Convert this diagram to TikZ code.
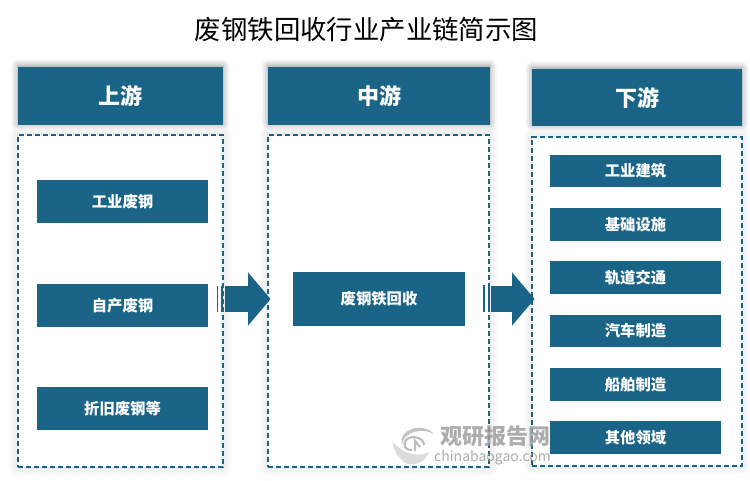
\documentclass[tikz,border=0pt]{standalone}
\usepackage{fontspec}
\setmainfont{Noto Sans CJK SC}
\usetikzlibrary{arrows.meta,shadows.blur}
\definecolor{steel}{HTML}{1A6587}
\tikzset{
	head/.style = {fill=steel, text=white, inner sep=0pt, outer sep=0pt, minimum height=43.5pt, font=\fontsize{16.5}{16.5}\selectfont\bfseries,
		blur shadow={shadow xshift=0pt, shadow yshift=1pt, shadow blur radius=5pt, shadow opacity=45}},
	frame/.style = {draw=steel, dash pattern=on 4pt off 2pt, line width=1.1pt, fill=white, inner sep=0pt, outer sep=0pt,
		blur shadow={shadow xshift=0pt, shadow yshift=0pt, shadow blur radius=7pt, shadow opacity=18}},
	item/.style = {fill=steel, text=white, inner sep=0pt, outer sep=0pt, minimum width=128pt, font=\fontsize{11.5}{11.5}\selectfont\bfseries},
	flow/.style = {draw=steel, line width=19.5pt, -{Triangle[length=17pt,width=39pt]}, shorten >=-2pt, shorten <=1.5pt},
	barline/.style = {draw=steel, line width=1.2pt},
	wmark/.style = {text=gray!75, inner sep=0pt, opacity=.85}
}
\begin{document}
\begin{tikzpicture}[x=.75pt, y=-.75pt]
			\useasboundingbox (0,0) rectangle (750,480);
			\node (title) at (366.5,30) {\fontsize{19.8}{19.8}\selectfont 废钢铁回收行业产业链简示图};
			\node[head, minimum width=153.75pt] (up) at (120.5,96) {上游};
			\node[head, minimum width=166.5pt] (mid) at (379,96) {中游};
			\node[head, minimum width=157.5pt, minimum height=42.75pt] (down) at (637,97.5) {下游};
			\node[frame, minimum width=153.75pt, minimum height=249pt] (upbox) at (120.5,301) {};
			\node[frame, minimum width=165.75pt, minimum height=249pt] (midbox) at (378.5,301) {};
			\node[frame, minimum width=157.5pt, minimum height=246.75pt] (downbox) at (637,301.5) {};
			\node[item, minimum height=32.25pt] (scrap1) at (122.5,201.5) {工业废钢};
			\node[item, minimum height=32.25pt] (scrap2) [below of=scrap1, node distance=78pt] {自产废钢};
			\node[item, minimum height=32.25pt] (scrap3) [below of=scrap2, node distance=77.25pt] {折旧废钢等};
			\node[item, minimum width=129pt, minimum height=40.5pt] (recycle) at (379,299) {废钢铁回收};
			\node[item, minimum height=24.4pt] (use1) at (635.5,171) {工业建筑};
			\node[item, minimum height=24.4pt] (use2) [below of=use1, node distance=40pt] {基础设施};
			\node[item, minimum height=24.4pt] (use3) [below of=use2, node distance=40pt] {轨道交通};
			\node[item, minimum height=24.4pt] (use4) [below of=use3, node distance=40pt] {汽车制造};
			\node[item, minimum height=24.4pt] (use5) [below of=use4, node distance=40pt] {船舶制造};
			\node[item, minimum height=24.4pt] (use6) [below of=use5, node distance=40pt] {其他领域};
			\draw[flow] (upbox.east |- recycle) -- (midbox.west |- recycle);
			\draw[flow] (midbox.east |- recycle) -- (downbox.west |- recycle);
			\draw[barline] (217.5,286) -- (217.5,312);
			\draw[barline] (222,286) -- (222,312);
			\draw[barline] (484,285) -- (484,312);
			\draw[barline] (489,285) -- (489,312);
			% logo
			\fill[gray!55, opacity=.85] (402,444) .. controls (398,430) and (422,421) .. (434,434) .. controls (424,428) and (405,430) .. (402,444) -- cycle;
			\fill[gray!30, opacity=.9] (392,442) .. controls (398,446) and (402,452) .. (412,454) .. controls (418,455) and (424,455) .. (429,452) .. controls (426,462) and (412,468) .. (404,462) .. controls (398,458) and (394,450) .. (392,442) -- cycle;
			\draw[gray!60, line width=1.6pt, opacity=.85] (424,445) .. controls (424,438) and (412,434) .. (406,440) .. controls (402,445) and (406,451) .. (412,450);
			\draw[gray!60, line width=1.6pt, opacity=.85] (415,451) -- (415,441) -- (420,447);
			\node[wmark] (markcn) at (495,436.5) {\fontsize{16.5}{16.5}\selectfont\bfseries 观研报告网};
			\node[wmark] (markurl) at (492.5,458) {\fontsize{10.5}{10.5}\selectfont chinabaogao.com};
		\end{tikzpicture}
\end{document}
